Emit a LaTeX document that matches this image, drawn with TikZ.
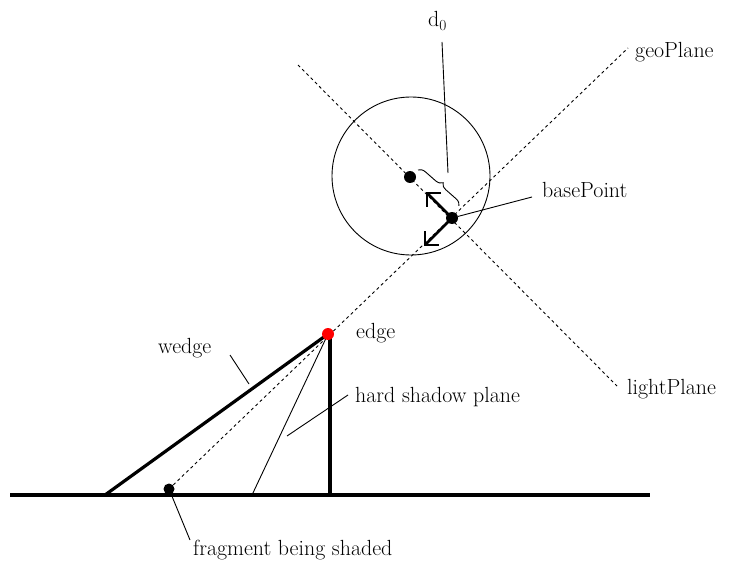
\documentclass[tikz,border=0pt]{standalone}
\usetikzlibrary{decorations.pathreplacing}
\begin{document}
\begin{tikzpicture}[x=1bp,y=-1bp,
  lbl/.style={font=\rmfamily\fontsize{22}{26}\selectfont, inner sep=0pt, anchor=base west},
  dot/.style={circle, fill=black, inner sep=0pt, minimum size=12bp},
  thickline/.style={line width=3.2bp},
  thinline/.style={line width=0.9bp},
  dashedline/.style={line width=0.9bp, dash pattern=on 3bp off 3bp},
  arrowline/.style={line width=2.6bp},
]
\useasboundingbox (0,0) rectangle (732,567);
% positions
\coordinate (gL) at (10,495);
\coordinate (gR) at (650,495);
\coordinate (wb) at (105,495);
\coordinate (pE) at (328,334);
\coordinate (vb) at (330,495);
\coordinate (vt) at (330,334);
\coordinate (hs) at (252,495);
\coordinate (pF) at (169,489);
\coordinate (geoEnd) at (628,48);
\coordinate (lightS) at (298,65);
\coordinate (lightE) at (617,386);
\coordinate (pC) at (410,177);
\coordinate (pB) at (452,218);
\coordinate (upV) at (427,193);
\coordinate (loV) at (425,245);
% dashed planes
\draw[dashedline] (pF) -- (geoEnd);
\draw[dashedline] (lightS) -- (lightE);
% circle
\node[draw, circle, thinline, inner sep=0pt, minimum size=158bp] (circ) at (411,176) {};
% ground, wedge, vertical
\draw[thickline] (gL) -- (gR);
\draw[thickline] (wb) -- (pE);
\draw[thickline] (vt) -- (vb);
\draw[thinline] (pE) -- (hs);
% arrows at basePoint
\draw[arrowline] (pB) -- (upV);
\draw[arrowline] ([xshift=14bp]upV) -- (upV) -- ([yshift=-14bp]upV);
\draw[arrowline] (pB) -- (loV);
\draw[arrowline] ([yshift=14bp]loV) -- (loV) -- ([xshift=14bp]loV);
% brace
\draw[thinline, decorate, decoration={brace, amplitude=7bp}] (418,170) -- (459,206);
% dots
\node[dot] (center) at (pC) {};
\node[dot] (base) at (pB) {};
\node[dot, minimum size=11bp] (frag) at (pF) {};
\node[dot, fill=red] (edge) at (pE) {};
% labels
\node[lbl] (d0) at (428,27) {d\textsubscript{0}};
\node[lbl] (geo) at (635,58) {geoPlane};
\node[lbl] (bp) at (542,198) {basePoint};
\node[lbl] (lp) at (627,394) {lightPlane};
\node[lbl] (ed) at (356,338) {edge};
\node[lbl] (wd) at (158,353) {wedge};
\node[lbl] (hsp) at (355,402) {hard shadow plane};
\node[lbl] (fr) at (193,555) {fragment being shaded};
% leaders
\coordinate (d0a) at (442,42);
\coordinate (d0b) at (448,173);
\draw[thinline] (d0a) -- (d0b);
\coordinate (bpa) at (532,197);
\draw[thinline] (base) -- (bpa);
\coordinate (wda) at (230,355);
\coordinate (wdb) at (249,384);
\draw[thinline] (wda) -- (wdb);
\coordinate (hsa) at (348,395);
\coordinate (hsb) at (287,436);
\draw[thinline] (hsa) -- (hsb);
\coordinate (fra) at (190,540);
\draw[thinline] (frag) -- (fra);
\end{tikzpicture}
\end{document}
